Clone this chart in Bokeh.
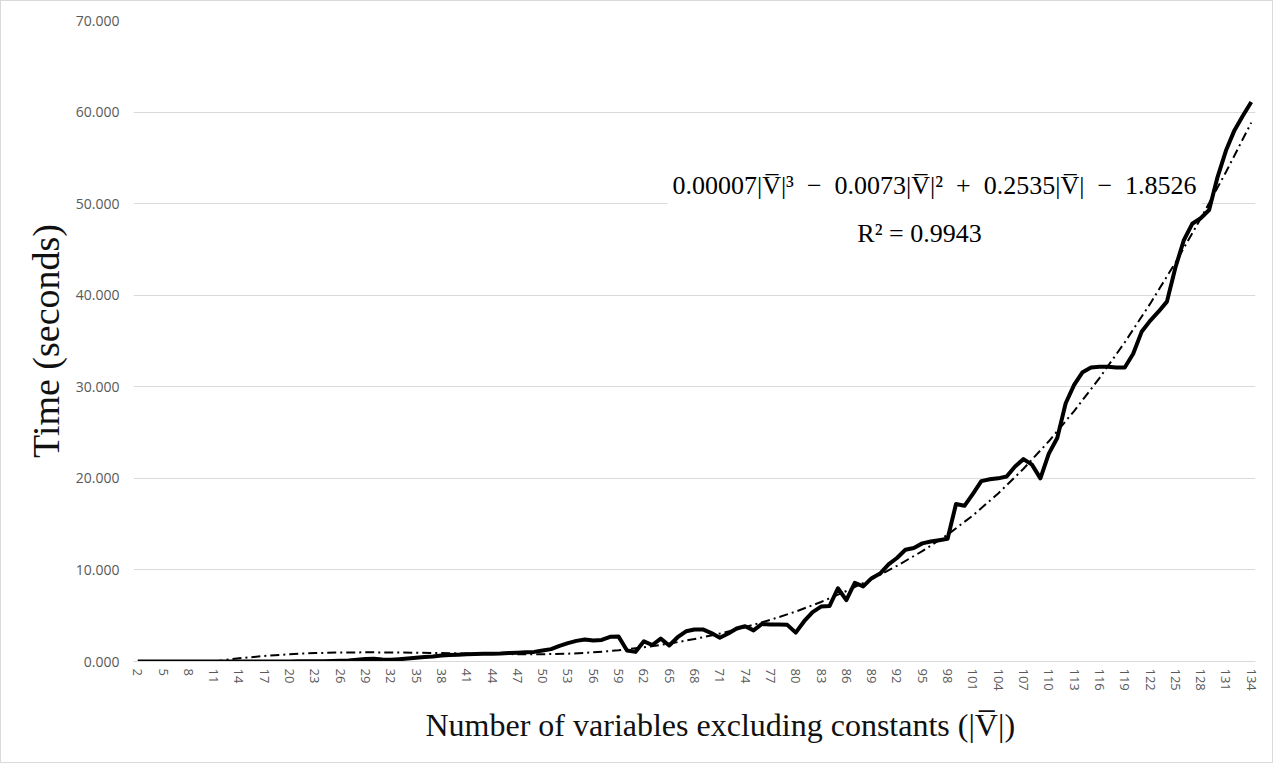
from bokeh.plotting import figure
from bokeh.models import Range1d, FixedTicker, NumeralTickFormatter, Label, Title
from bokeh.embed import file_html
from bokeh.resources import INLINE

# ---- data ----
n_vars = list(range(2, 135))  # categories 2..134

time_seconds = [
    0.00, 0.00, 0.00, 0.00, 0.00, 0.00, 0.00, 0.00, 0.00, 0.00,   # 2-11
    0.00, 0.00, 0.00, 0.00, 0.00, 0.00, 0.00, 0.00, 0.01, 0.02,   # 12-21
    0.02, 0.03, 0.04, 0.05, 0.08, 0.12, 0.20, 0.28, 0.30, 0.22,   # 22-31
    0.18, 0.25, 0.33, 0.42, 0.50, 0.55, 0.65, 0.72, 0.75, 0.80,   # 32-41
    0.82, 0.84, 0.85, 0.87, 0.92, 0.95, 1.00, 1.05, 1.20, 1.35,   # 42-51
    1.70, 2.00, 2.25, 2.40, 2.30, 2.35, 2.70, 2.72, 1.20, 1.05,   # 52-61
    2.20, 1.80, 2.50, 1.75, 2.65, 3.30, 3.50, 3.50, 3.10, 2.60,   # 62-71
    3.05, 3.60, 3.85, 3.40, 4.10, 4.05, 4.05, 4.00, 3.15, 4.40,   # 72-81
    5.40, 6.00, 6.05, 8.00, 6.70, 8.60, 8.20, 9.10, 9.60, 10.60,  # 82-91
    11.30, 12.20, 12.40, 12.90, 13.10, 13.25, 13.40, 17.20, 17.00, 18.30,  # 92-101
    19.70, 19.90, 20.00, 20.20, 21.30, 22.10, 21.50, 20.00, 22.70, 24.40,  # 102-111
    28.20, 30.20, 31.60, 32.10, 32.20, 32.20, 32.10, 32.10, 33.60, 36.00,  # 112-121
    37.20, 38.20, 39.30, 43.00, 46.00, 47.80, 48.40, 49.30, 52.90, 55.80,  # 122-131
    58.00, 59.60, 61.10,                                                   # 132-134
]

# cubic trend line (clipped at 0 like the original)
trend_vars = [11, 14, 17, 20, 23, 26, 29, 32, 35, 38, 41, 44, 47, 50, 53, 56, 59,
              62, 65, 68, 71, 74, 77, 80, 83, 86, 89, 92, 95, 98, 101, 104, 107,
              110, 113, 116, 119, 122, 125, 128, 131, 134]
trend_seconds = [0.00, 0.35, 0.60, 0.80, 0.92, 0.98, 1.00, 0.99, 0.96, 0.92, 0.87,
                 0.83, 0.80, 0.80, 0.85, 1.00, 1.22, 1.55, 1.95, 2.45, 3.05, 3.75,
                 4.55, 5.45, 6.50, 7.70, 9.00, 10.45, 12.05, 13.85, 15.95, 18.35,
                 21.05, 24.05, 27.35, 30.95, 34.85, 39.05, 43.55, 48.35, 53.45, 58.85]

x_ticks = list(range(2, 135, 3))
y_ticks = [0, 10, 20, 30, 40, 50, 60, 70]

equation_text = ("0.00007|V\u0305|\u00b3\u2002\u2212\u20020.0073|V\u0305|\u00b2\u2002+\u2002"
                 "0.2535|V\u0305|\u2002\u2212\u20021.8526")
r2_text = "R\u00b2 = 0.9943"
x_title = "Number of variables excluding constants (|V\u0305|)"
y_title = "Time (seconds)"

# ---- figure ----
p = figure(width=1273, height=763, output_backend="svg", toolbar_location=None,
           x_range=Range1d(1.5, 134.5), y_range=Range1d(0, 70),
           min_border_left=132, min_border_right=19, min_border_top=19, min_border_bottom=103)
p.styles = {"border": "1px solid #d9d9d9"}
p.outline_line_color = None
p.background_fill_color = "white"
p.border_fill_color = "white"

p.xgrid.grid_line_color = None
p.ygrid.grid_line_color = "#d9d9d9"
p.ygrid.grid_line_width = 1

p.yaxis.ticker = FixedTicker(ticks=y_ticks)
p.yaxis.formatter = NumeralTickFormatter(format="0.000")
p.xaxis.ticker = FixedTicker(ticks=x_ticks)

for ax in (p.xaxis[0], p.yaxis[0]):
    ax.major_tick_line_color = None
    ax.minor_tick_line_color = None
    ax.major_tick_out = 0
    ax.major_tick_in = 0
    ax.major_label_text_color = "#595959"
    ax.major_label_text_font = "Open Sans"
    ax.axis_label_text_font = "Liberation Serif"
    ax.axis_label_text_font_style = "normal"
    ax.axis_label_text_color = "#111111"

p.yaxis.axis_line_color = None
p.xaxis.axis_line_color = "#d9d9d9"
p.yaxis.major_label_text_font_size = "14px"
p.xaxis.major_label_text_font_size = "13px"
p.yaxis.major_label_standoff = 14
p.xaxis.major_label_standoff = 7
p.xaxis.major_label_orientation = "vertical"

p.yaxis.axis_label = y_title
p.yaxis.axis_label_text_font_size = "38px"
p.yaxis.axis_label_standoff = 6

# x-axis title (slightly right of centre, as in the original)
p.add_layout(Title(text=x_title, align="left", offset=292, text_font="Liberation Serif",
                   text_font_size="32px", text_font_style="normal", text_color="#111111",
                   standoff=22), "below")

# data line and trend line
p.line(n_vars, time_seconds, line_width=4, line_color="black", line_join="round")
p.line(trend_vars, trend_seconds, line_width=2, line_color="black", line_dash="9 4 2 4")

# equation annotation
eq = Label(x=96.45, y=52.0, text=equation_text, text_align="center", text_baseline="middle",
           text_font="Liberation Serif", text_font_size="26px", text_color="black",
           background_fill_color="white", padding=5)
r2 = Label(x=94.67, y=46.74, text=r2_text, text_align="center", text_baseline="middle",
           text_font="Liberation Serif", text_font_size="26px", text_color="black")
p.add_layout(eq)
p.add_layout(r2)

open("out.html", "w").write(file_html(p, INLINE))
